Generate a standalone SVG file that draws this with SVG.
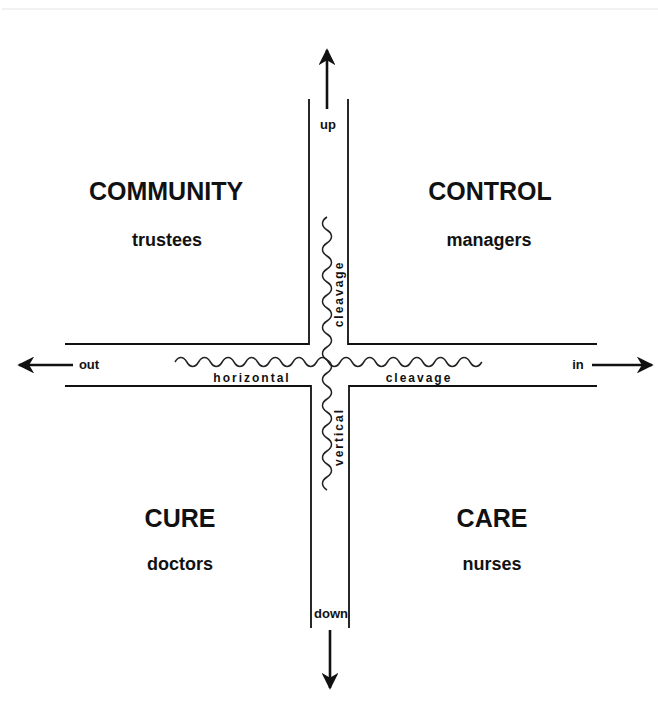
<svg xmlns="http://www.w3.org/2000/svg" width="658" height="711" viewBox="0 0 658 711">
<defs>
<style>
.ch{fill:none;stroke:#111;stroke-width:1.8}
.wave{fill:none;stroke:#222;stroke-width:1.5}
.arr{fill:none;stroke:#111;stroke-width:2.6}
.big{font-family:"Liberation Sans",Arial,sans-serif;font-weight:bold;font-size:25px;fill:#111;text-anchor:middle}
.sub{font-family:"Liberation Sans",Arial,sans-serif;font-weight:bold;font-size:18px;fill:#111;text-anchor:middle}
.lbl{font-family:"Liberation Sans",Arial,sans-serif;font-weight:bold;font-size:13px;fill:#111;text-anchor:middle}
.sp{font-family:"Liberation Sans",Arial,sans-serif;font-weight:bold;font-size:12px;fill:#111;text-anchor:middle;letter-spacing:2px}
</style>
<marker id="ah" viewBox="0 0 10 10" refX="9" refY="5" markerWidth="6.5" markerHeight="6.5" orient="auto" markerUnits="strokeWidth">
<path d="M0 0 L10 5 L0 10 L3 5 Z" fill="#111"/>
</marker>
</defs>
<rect x="0" y="0" width="658" height="711" fill="#fff"/>
<rect x="2" y="8" width="656" height="2" fill="#f2f2f2"/>

<g id="connectors">
<path class="ch" d="M309 99 V344 H65"/>
<path class="ch" d="M348 99 V344 H597"/>
<path class="ch" d="M65 386 H311 V628"/>
<path class="ch" d="M597 386 H349 V628"/>
<path class="arr" d="M327 109 V50" marker-end="url(#ah)"/>
<path class="arr" d="M330 630 V688" marker-end="url(#ah)"/>
<path class="arr" d="M73 365 H19" marker-end="url(#ah)"/>
<path class="arr" d="M592 365 H652" marker-end="url(#ah)"/>
<path id="hwave" class="wave" d="M175 362 c3.5 -6 8.3 -6 11.8 0 c3.5 6 8.3 6 11.8 0 c3.5 -6 8.3 -6 11.8 0 c3.5 6 8.3 6 11.8 0 c3.5 -6 8.3 -6 11.8 0 c3.5 6 8.3 6 11.8 0 c3.5 -6 8.3 -6 11.8 0 c3.5 6 8.3 6 11.8 0 c3.5 -6 8.3 -6 11.8 0 c3.5 6 8.3 6 11.8 0 c3.5 -6 8.3 -6 11.8 0 c3.5 6 8.3 6 11.8 0 c3.5 -6 8.3 -6 11.8 0 c3.5 6 8.3 6 11.8 0 c3.5 -6 8.3 -6 11.8 0 c3.5 6 8.3 6 11.8 0 c3.5 -6 8.3 -6 11.8 0 c3.5 6 8.3 6 11.8 0 c3.5 -6 8.3 -6 11.8 0 c3.5 6 8.3 6 11.8 0 c3.5 -6 8.3 -6 11.8 0 c3.5 6 8.3 6 11.8 0 c3.5 -6 8.3 -6 11.8 0 c3.5 6 8.3 6 11.8 0 c3.5 -6 8.3 -6 11.8 0 c3.5 6 8.3 6 11.8 0"/>
<path id="vwave" class="wave" d="M327 217 c-6 3.9 -6 9.1 0 13 c6 3.9 6 9.1 0 13 c-6 3.9 -6 9.1 0 13 c6 3.9 6 9.1 0 13 c-6 3.9 -6 9.1 0 13 c6 3.9 6 9.1 0 13 c-6 3.9 -6 9.1 0 13 c6 3.9 6 9.1 0 13 c-6 3.9 -6 9.1 0 13 c6 3.9 6 9.1 0 13 c-6 3.9 -6 9.1 0 13 c6 3.9 6 9.1 0 13 c-6 3.9 -6 9.1 0 13 c6 3.9 6 9.1 0 13 c-6 3.9 -6 9.1 0 13 c6 3.9 6 9.1 0 13 c-6 3.9 -6 9.1 0 13 c6 3.9 6 9.1 0 13 c-6 3.9 -6 9.1 0 13 c6 3.9 6 9.1 0 13 c-6 3.9 -6 9.1 0 13"/>
</g>

<g id="community">
<text class="big" x="166" y="200">COMMUNITY</text>
<text class="sub" x="167" y="246">trustees</text>
</g>
<g id="control">
<text class="big" x="490" y="200">CONTROL</text>
<text class="sub" x="489" y="246">managers</text>
</g>
<g id="cure">
<text class="big" x="180" y="527">CURE</text>
<text class="sub" x="180" y="570">doctors</text>
</g>
<g id="care">
<text class="big" x="492" y="527">CARE</text>
<text class="sub" x="492" y="570">nurses</text>
</g>

<g id="labels">
<text class="lbl" x="328" y="129">up</text>
<text class="lbl" x="331" y="618">down</text>
<text class="lbl" x="89" y="369">out</text>
<text class="lbl" x="578" y="369">in</text>
<text class="sp" x="252" y="382">horizontal</text>
<text class="sp" x="419" y="382">cleavage</text>
<text class="sp" transform="translate(343 294) rotate(-90)">cleavage</text>
<text class="sp" transform="translate(343 437) rotate(-90)">vertical</text>
</g>
</svg>
